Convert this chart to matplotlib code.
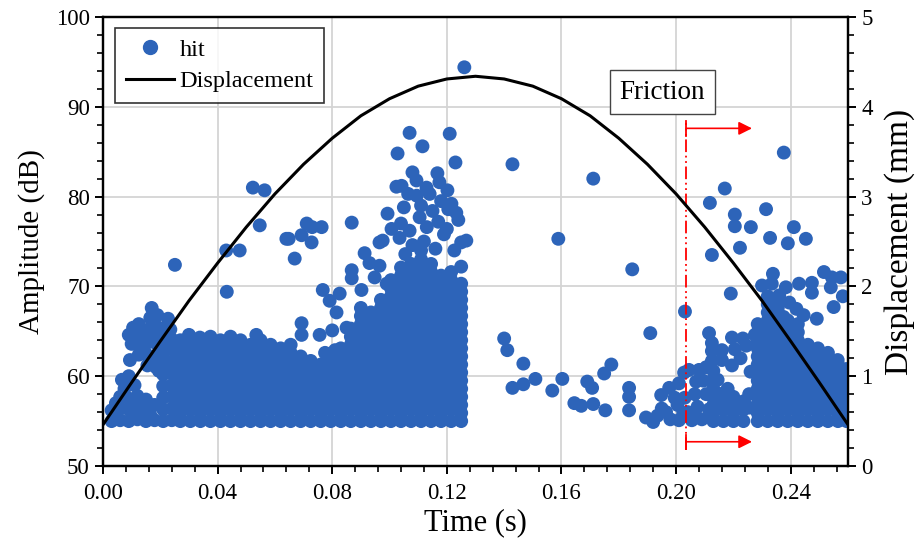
import matplotlib
matplotlib.use("Agg")
import matplotlib.pyplot as plt
import numpy as np
from matplotlib.lines import Line2D
from matplotlib.ticker import MultipleLocator

plt.rcParams['font.family'] = ['Liberation Serif', 'DejaVu Serif']

# acoustic emission hits.
# dense parts are given column by column: one time (s) and the amplitudes (dB) stacked there
dense_time = [
    0.027, 0.0305, 0.034, 0.0375, 0.041, 0.0445, 0.048, 0.0515, 0.055, 0.0585,
    0.062, 0.0655, 0.069, 0.0725, 0.076, 0.0795, 0.083, 0.0865,
    0.090, 0.0935, 0.097, 0.1005, 0.104, 0.1075, 0.111, 0.1145, 0.118, 0.1215, 0.125,
    0.213, 0.2165, 0.220, 0.2235,
    0.2285, 0.232, 0.2355, 0.239, 0.2425, 0.246, 0.2495, 0.253, 0.2565, 0.2595,
]
dense_db = [
    # 0.027 - 0.0585
    [55.0, 55.9, 56.8, 57.7, 58.6, 59.5, 60.4, 61.3, 62.2, 63.1, 64.0],
    [55.0, 56.3, 57.2, 58.1, 59.0, 59.9, 60.8, 61.7, 62.6, 63.5],
    [55.0, 55.9, 56.8, 57.7, 58.6, 59.5, 60.4, 61.3, 62.2, 63.1, 64.0],
    [55.0, 56.3, 57.2, 58.1, 59.0, 59.9, 60.8, 61.7, 62.6, 63.5, 64.4],
    [55.0, 55.9, 56.8, 57.7, 58.6, 59.5, 60.4, 61.3, 62.2, 63.1, 64.0],
    [55.0, 56.3, 57.2, 58.1, 59.0, 59.9, 60.8, 61.7, 62.6, 63.5, 64.4],
    [55.0, 55.9, 56.8, 57.7, 58.6, 59.5, 60.4, 61.3, 62.2, 63.1, 64.0],
    [55.0, 56.3, 57.2, 58.1, 59.0, 59.9, 60.8, 61.7, 62.6, 63.5],
    [55.0, 55.9, 56.8, 57.7, 58.6, 59.5, 60.4, 61.3, 62.2, 63.1, 64.0],
    [55.0, 56.3, 57.2, 58.1, 59.0, 59.9, 60.8, 61.7, 62.6, 63.5],
    # 0.062 - 0.0865
    [55.0, 55.9, 56.8, 57.7, 58.6, 59.5, 60.4, 61.3, 62.2, 63.1],
    [55.0, 56.3, 57.2, 58.1, 59.0, 59.9, 60.8, 61.7, 62.6, 63.5],
    [55.0, 55.9, 56.8, 57.7, 58.6, 59.5, 60.4, 61.3, 62.2],
    [55.0, 56.3, 57.2, 58.1, 59.0, 59.9, 60.8, 61.7],
    [55.0, 55.9, 56.8, 57.7, 58.6, 59.5, 60.4, 61.3],
    [55.0, 56.3, 57.2, 58.1, 59.0, 59.9, 60.8, 61.7],
    [55.0, 55.9, 56.8, 57.7, 58.6, 59.5, 60.4, 61.3, 62.2, 63.1],
    [55.0, 56.3, 57.2, 58.1, 59.0, 59.9, 60.8, 61.7, 62.6, 63.5, 64.4, 65.3],
    # 0.090 - 0.125
    [55.0, 55.9, 56.8, 57.7, 58.6, 59.5, 60.4, 61.3, 62.2, 63.1, 64.0, 64.9, 65.8, 66.7, 67.6],
    [55.0, 56.3, 57.2, 58.1, 59.0, 59.9, 60.8, 61.7, 62.6, 63.5, 64.4, 65.3, 66.2, 67.1],
    [55.0, 55.9, 56.8, 57.7, 58.6, 59.5, 60.4, 61.3, 62.2, 63.1, 64.0, 64.9, 65.8, 66.7, 67.6, 68.5],
    [55.0, 56.3, 57.2, 58.1, 59.0, 59.9, 60.8, 61.7, 62.6, 63.5, 64.4, 65.3, 66.2, 67.1, 68.0, 68.9, 69.8, 70.7],
    [55.0, 55.9, 56.8, 57.7, 58.6, 59.5, 60.4, 61.3, 62.2, 63.1, 64.0, 64.9, 65.8, 66.7, 67.6, 68.5, 69.4, 70.3, 71.2, 72.1],
    [55.0, 56.3, 57.2, 58.1, 59.0, 59.9, 60.8, 61.7, 62.6, 63.5, 64.4, 65.3, 66.2, 67.1, 68.0, 68.9, 69.8, 70.7, 71.6, 72.5],
    [55.0, 55.9, 56.8, 57.7, 58.6, 59.5, 60.4, 61.3, 62.2, 63.1, 64.0, 64.9, 65.8, 66.7, 67.6, 68.5, 69.4, 70.3, 71.2, 72.1, 73.0, 74.0],
    [55.0, 56.3, 57.2, 58.1, 59.0, 59.9, 60.8, 61.7, 62.6, 63.5, 64.4, 65.3, 66.2, 67.1, 68.0, 68.9, 69.8, 70.7, 71.6, 72.5],
    [55.0, 55.9, 56.8, 57.7, 58.6, 59.5, 60.4, 61.3, 62.2, 63.1, 64.0, 64.9, 65.8, 66.7, 67.6, 68.5, 69.4, 70.3, 71.2],
    [55.0, 56.3, 57.2, 58.1, 59.0, 59.9, 60.8, 61.7, 62.6, 63.5, 64.4, 65.3, 66.2, 67.1, 68.0, 68.9, 69.8, 70.7, 71.6],
    [55.0, 55.9, 56.8, 57.7, 58.6, 59.5, 60.4, 61.3, 62.2, 63.1, 64.0, 64.9, 65.8, 66.7, 67.6, 68.5, 69.4, 70.3, 72.2],
    # 0.213 - 0.2235
    [55.0, 55.9, 56.8, 57.7, 58.6],
    [55.0, 56.3, 57.2, 58.1],
    [55.0, 55.9, 56.8, 57.7],
    [55.0, 56.3, 57.2],
    # 0.2285 - 0.2595
    [55.0, 55.9, 56.8, 57.7, 58.6, 59.5, 60.4, 61.3, 62.2, 63.1, 64.0, 64.9, 65.8],
    [55.0, 56.3, 57.2, 58.1, 59.0, 59.9, 60.8, 61.7, 62.6, 63.5, 64.4, 65.3, 66.2, 67.1, 68.0, 68.9],
    [55.0, 55.9, 56.8, 57.7, 58.6, 59.5, 60.4, 61.3, 62.2, 63.1, 64.0, 64.9, 65.8, 66.7, 67.6, 68.5],
    [55.0, 56.3, 57.2, 58.1, 59.0, 59.9, 60.8, 61.7, 62.6, 63.5, 64.4, 65.3, 66.2],
    [55.0, 55.9, 56.8, 57.7, 58.6, 59.5, 60.4, 61.3, 62.2, 63.1, 64.0, 64.9, 65.8],
    [55.0, 56.3, 57.2, 58.1, 59.0, 59.9, 60.8, 61.7, 62.6, 63.5],
    [55.0, 55.9, 56.8, 57.7, 58.6, 59.5, 60.4, 61.3, 62.2, 63.1],
    [55.0, 56.3, 57.2, 58.1, 59.0, 59.9, 60.8, 61.7, 62.6],
    [55.0, 55.9, 56.8, 57.7, 58.6, 59.5, 60.4, 61.3],
    [55.0, 56.3, 57.2, 58.1, 59.0, 59.9, 60.8],
]

# loose hits: (time s, amplitude dB)
hits_early = [
    (0.003, 55.0), (0.003, 56.2), (0.004, 55.6), (0.0045, 57.0),
    (0.006, 55.1), (0.006, 56.4), (0.006, 57.7), (0.0066, 59.6), (0.0075, 58.6),
    (0.009, 55.0), (0.009, 56.3), (0.009, 57.5), (0.009, 60.0), (0.0094, 61.8), (0.010, 63.6), (0.0105, 65.4), (0.009, 64.6),
    (0.012, 55.2), (0.012, 56.5), (0.012, 57.8), (0.0125, 62.4), (0.012, 63.6), (0.013, 64.9), (0.0125, 65.8), (0.011, 59.0),
    (0.0105, 56.0), (0.0105, 57.2), (0.0135, 55.6), (0.0135, 56.9), (0.0135, 63.2), (0.0115, 64.4), (0.0145, 64.3),
    (0.015, 55.0), (0.015, 56.2), (0.015, 57.4), (0.0155, 61.2), (0.015, 62.5), (0.016, 63.8), (0.015, 65.0), (0.0165, 66.5), (0.017, 67.6),
    (0.018, 55.1), (0.018, 56.8), (0.0185, 61.0), (0.018, 62.2), (0.019, 63.5), (0.0185, 64.7), (0.019, 66.8),
    (0.0165, 55.7), (0.0165, 62.0), (0.017, 65.6), (0.0195, 60.6), (0.0195, 65.4),
    (0.021, 55.0), (0.021, 56.3), (0.021, 57.6), (0.021, 58.9), (0.021, 60.2), (0.0215, 61.4), (0.021, 62.6), (0.022, 63.8), (0.0215, 65.1), (0.0227, 66.4),
    (0.024, 55.1), (0.024, 56.4), (0.024, 57.7), (0.024, 59.0), (0.024, 60.3), (0.024, 61.6), (0.0245, 62.9), (0.024, 64.1), (0.0235, 65.2),
    (0.030, 64.6), (0.0338, 64.3), (0.0535, 64.6),
]

hits_mid = [
    (0.0693, 65.9), (0.0693, 64.6), (0.0756, 64.6), (0.080, 65.1), (0.085, 65.4), (0.0815, 67.1),
    (0.0767, 69.6), (0.0791, 68.4), (0.0826, 69.2), (0.0902, 69.6), (0.0775, 62.6), (0.081, 62.9),
]

hits_upper = [
    (0.1261, 94.4), (0.107, 87.1), (0.121, 87.0), (0.1115, 85.6), (0.1028, 84.8), (0.123, 83.8),
    (0.108, 82.7), (0.1167, 82.6), (0.1094, 81.8), (0.1129, 81.0), (0.1174, 81.6), (0.1202, 80.7),
    (0.1024, 81.1), (0.1042, 81.2), (0.1216, 79.2), (0.1233, 78.2), (0.105, 78.8), (0.111, 79.0),
    (0.115, 78.4), (0.1105, 77.7), (0.0993, 78.1), (0.0868, 77.1), (0.1007, 76.4), (0.0976, 75.1),
    (0.0965, 74.9), (0.125, 74.9), (0.1268, 75.1), (0.1226, 74.0), (0.0913, 73.7), (0.093, 72.6),
    (0.0965, 72.3), (0.0948, 71.0), (0.099, 70.3), (0.0868, 71.8), (0.0868, 70.9),
    (0.104, 77.0), (0.107, 76.2), (0.113, 76.6), (0.117, 77.2), (0.119, 75.8), (0.108, 74.6),
    (0.112, 75.0), (0.116, 74.2), (0.120, 76.4), (0.124, 77.4), (0.1035, 75.4), (0.1055, 73.6),
    (0.1095, 80.1), (0.114, 80.3), (0.118, 79.5), (0.1205, 78.6), (0.1065, 80.3),
    (0.0711, 77.0), (0.0763, 76.6), (0.0693, 75.7), (0.0728, 74.9), (0.0648, 75.3), (0.0669, 73.1),
    (0.073, 76.6), (0.0523, 81.0), (0.0564, 80.7), (0.0547, 76.8), (0.064, 75.3), (0.043, 74.0),
    (0.0477, 74.0), (0.0432, 69.4), (0.0251, 72.4),
]

hits_gap = [
    (0.1429, 83.6), (0.1711, 82.0), (0.1589, 75.3), (0.1847, 71.9), (0.191, 64.8), (0.140, 64.2),
    (0.1411, 62.9), (0.1467, 61.4), (0.1429, 58.7), (0.1467, 59.1), (0.1509, 59.7), (0.1568, 58.4),
    (0.1603, 59.7), (0.1645, 57.0), (0.1669, 56.7), (0.1711, 56.9), (0.169, 59.4), (0.1707, 58.7),
    (0.1753, 56.2), (0.1749, 60.3), (0.1774, 61.3), (0.1836, 58.7), (0.1836, 57.7), (0.1836, 56.2),
]

hits_late = [
    (0.1895, 55.4), (0.192, 54.9), (0.1948, 57.9), (0.1976, 58.7), (0.195, 56.4), (0.198, 55.2),
    (0.201, 55.1), (0.2005, 56.8), (0.201, 59.2), (0.2028, 60.4), (0.2045, 60.7), (0.208, 60.7),
    (0.203, 57.6), (0.204, 56.0), (0.2055, 55.1), (0.2065, 58.0), (0.2075, 56.6), (0.209, 55.2),
    (0.2095, 59.5), (0.2105, 61.0), (0.2105, 58.0), (0.2115, 56.3), (0.2031, 67.2), (0.2115, 64.8),
    (0.1965, 56.0), (0.1995, 57.6), (0.2065, 55.9), (0.207, 59.4), (0.2025, 55.9), (0.1935, 55.6),
    (0.213, 59.6), (0.213, 60.6), (0.2125, 61.7), (0.2125, 62.8), (0.2125, 63.7),
    (0.216, 61.8), (0.216, 62.9), (0.2195, 64.3), (0.2195, 61.2), (0.2205, 63.0), (0.2233, 64.2),
    (0.2225, 62.0), (0.2245, 63.4), (0.2255, 56.5), (0.2255, 58.0), (0.226, 60.5), (0.2275, 64.6),
    (0.218, 58.6), (0.2145, 59.6),
    (0.2300, 70.1), (0.2334, 70.3), (0.2383, 69.9), (0.2429, 70.3), (0.2474, 70.4), (0.2516, 71.6),
    (0.2544, 71.0), (0.2575, 71.0), (0.2474, 69.3), (0.254, 69.9), (0.2582, 68.9), (0.255, 67.7),
    (0.2491, 66.4), (0.2564, 61.8), (0.2338, 71.4), (0.2191, 69.2), (0.236, 69.0), (0.2395, 68.2),
    (0.242, 67.5), (0.2445, 66.8), (0.2375, 66.6),
    (0.2376, 84.9), (0.217, 80.9), (0.2118, 79.3), (0.2314, 78.6), (0.2205, 78.0), (0.2205, 76.7),
    (0.2261, 76.6), (0.2328, 75.4), (0.2411, 76.6), (0.2453, 75.3), (0.239, 74.8), (0.2223, 74.3),
    (0.2125, 73.5),
]

# displacement curve, every 0.01 s
disp_time = [0.00, 0.01, 0.02, 0.03, 0.04, 0.05, 0.06, 0.07, 0.08, 0.09, 0.10, 0.11, 0.12, 0.13,
             0.14, 0.15, 0.16, 0.17, 0.18, 0.19, 0.20, 0.21, 0.22, 0.23, 0.24, 0.25, 0.26]
disp_mm = [0.46, 0.93, 1.39, 1.84, 2.26, 2.66, 3.03, 3.36, 3.65, 3.90, 4.09, 4.23, 4.31, 4.34,
           4.31, 4.23, 4.09, 3.90, 3.65, 3.36, 3.03, 2.66, 2.26, 1.84, 1.39, 0.93, 0.46]

friction_t = 0.2035
friction_arrow_end = 0.2265
friction_span = (51.8, 88.2)
arrow_levels = [87.6, 52.7]

BLUE = '#2D64B9'


def main():
    col_t = [t for t, col in zip(dense_time, dense_db) for _ in col]
    col_db = [v for col in dense_db for v in col]
    loose = np.array(hits_early + hits_mid + hits_upper + hits_gap + hits_late)
    hit_t = np.concatenate([col_t, loose[:, 0]])
    hit_db = np.concatenate([col_db, loose[:, 1]])

    fig = plt.figure(figsize=(9.17, 5.51), dpi=100)
    ax = fig.add_axes([103 / 917, 85 / 551, 745 / 917, 449 / 551])
    ax2 = ax.twinx()

    ax.scatter(hit_t, hit_db, s=100, color=BLUE, edgecolors='none', zorder=3)

    ax2.plot(disp_time, disp_mm, color='black', lw=2.2, zorder=4)

    # friction marker
    ax.plot([friction_t, friction_t], friction_span, color='red', lw=1.3,
            linestyle=(0, (7, 2, 1, 2, 1, 2)), zorder=4)
    for y in arrow_levels:
        ax.annotate('', xy=(friction_arrow_end, y), xytext=(friction_t, y),
                    arrowprops=dict(arrowstyle='-|>', color='red', lw=1.2,
                                    mutation_scale=20, shrinkA=0, shrinkB=0), zorder=5)
        ax.plot([friction_t, friction_t], [y - 0.8, y + 0.8], color='red', lw=1.3, zorder=5)
    ax.text(0.1952, 91.6, 'Friction', fontsize=19.5, ha='center', va='center', zorder=6,
            bbox=dict(boxstyle='square,pad=0.35', facecolor='white', edgecolor='#444444', lw=1.0))

    ax.set_xlim(0, 0.26)
    ax.set_ylim(50, 100)
    ax2.set_ylim(0, 5)

    ax.xaxis.set_major_locator(MultipleLocator(0.04))
    ax.xaxis.set_minor_locator(MultipleLocator(0.008))
    ax.yaxis.set_major_locator(MultipleLocator(10))
    ax.yaxis.set_minor_locator(MultipleLocator(2))
    ax2.yaxis.set_major_locator(MultipleLocator(1))
    ax2.yaxis.set_minor_locator(MultipleLocator(0.2))
    ax.xaxis.set_major_formatter(plt.FuncFormatter(lambda v, p: f'{v:.2f}'))

    ax.grid(True, which='major', color='#d4d4d4', lw=1.3, zorder=0)
    ax.set_axisbelow(True)

    for a in (ax, ax2):
        for sp in a.spines.values():
            sp.set_linewidth(1.6)
        a.tick_params(which='major', direction='out', length=6, width=1.4, labelsize=16.5)
        a.tick_params(which='minor', direction='out', length=4, width=1.2)
    ax.tick_params(axis='x', pad=6)

    ax.set_xlabel('Time (s)', fontsize=22, labelpad=3)
    ax.set_ylabel('Amplitude (dB)', fontsize=21, labelpad=8)
    ax2.set_ylabel('Displacement (mm)', fontsize=24, labelpad=8)

    handles = [Line2D([], [], marker='o', ls='none', color=BLUE, markersize=10),
               Line2D([], [], color='black', lw=2.2)]
    leg = ax2.legend(handles, ['hit', 'Displacement'], loc='upper left', bbox_to_anchor=(0.016, 0.976),
                     fontsize=17.5, frameon=True, fancybox=False, edgecolor='black',
                     handlelength=2.0, handletextpad=0.2, borderpad=0.45, labelspacing=0.4,
                     borderaxespad=0)
    leg.get_frame().set_linewidth(1.2)

    fig.savefig('out.png', dpi=100)


if __name__ == '__main__':
    main()
